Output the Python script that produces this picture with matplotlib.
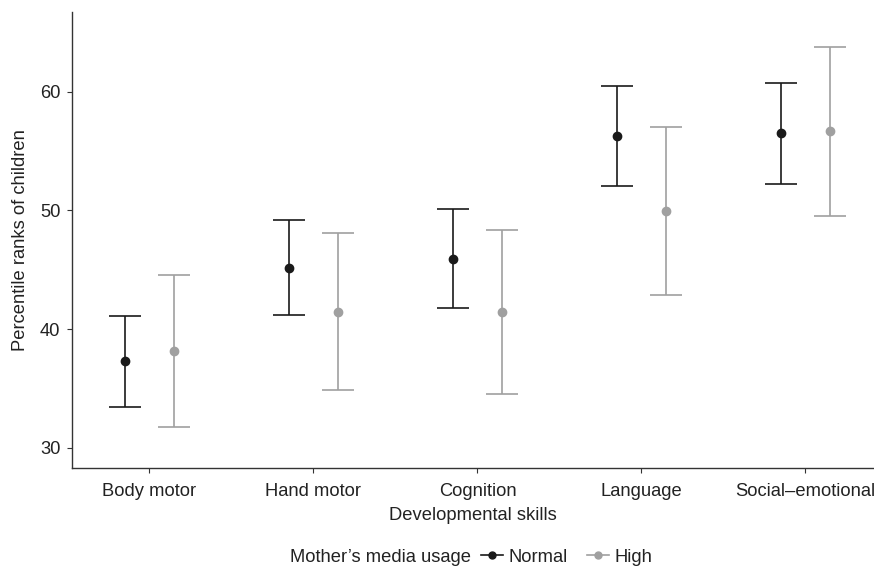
import numpy as np
import matplotlib
matplotlib.use('Agg')
import matplotlib.pyplot as plt
from matplotlib.lines import Line2D

plt.rcParams['font.family'] = ['Liberation Sans', 'DejaVu Sans']

# данные
skills = ['Body motor', 'Hand motor', 'Cognition', 'Language', 'Social–emotional']
normal_mean = [37.31, 45.17, 45.93, 56.24, 56.49]
normal_low = [33.46, 41.19, 41.80, 52.03, 52.25]
normal_high = [41.13, 49.16, 50.12, 60.48, 60.76]
high_mean = [38.18, 41.47, 41.41, 49.95, 56.66]
high_low = [31.78, 34.84, 34.50, 42.90, 49.55]
high_high = [44.58, 48.12, 48.35, 57.03, 63.77]
y_ticks = [30, 40, 50, 60]

black = '#1a1a1a'
gray = '#a0a0a0'
fs = 13.25

fig = plt.figure(figsize=(8.74, 5.66), dpi=100)
ax = fig.add_axes([0.082, 0.1726, 1.0 - 0.082, 0.8062])

x = np.arange(1, len(skills) + 1)
dodge = 0.15

for xs, m, lo, hi, col in [(x - dodge, normal_mean, normal_low, normal_high, black),
                           (x + dodge, high_mean, high_low, high_high, gray)]:
    m = np.array(m)
    yerr = [m - np.array(lo), np.array(hi) - m]
    ax.errorbar(xs, m, yerr=yerr, fmt='o', color=col, ms=6, elinewidth=1.2,
                capsize=11.8, capthick=1.2, ecolor=col)

ax.set_xlim(1 - (149.5 - 71.7) / 164, 1 + (874 - 149.5) / 164)
ax.set_ylim(28.27, 66.7)
ax.set_xticks(x)
ax.set_xticklabels(skills)
ax.set_yticks(y_ticks)

for s in ['top', 'right']:
    ax.spines[s].set_visible(False)
for s in ['left', 'bottom']:
    ax.spines[s].set_color('#333333')
    ax.spines[s].set_linewidth(1.0)
ax.tick_params(colors='#333333', labelcolor='#222222', labelsize=fs, length=3.6, width=0.8)
ax.tick_params(axis='x', pad=7)
ax.tick_params(axis='y', pad=4.5)

ax.set_xlabel('Developmental skills', fontsize=fs, color='#222222', labelpad=5)
ax.set_ylabel('Percentile ranks of children', fontsize=fs, color='#222222', labelpad=8)

# легенда снизу
fig.text(290 / 874, 4.2 / 566, 'Mother’s media usage', fontsize=fs, color='#222222',
         ha='left', va='baseline')
handles = [Line2D([], [], color=black, marker='o', ms=5, lw=1.2),
           Line2D([], [], color=gray, marker='o', ms=5, lw=1.2)]
fig.legend(handles, ['Normal', 'High'], ncol=2, frameon=False, fontsize=fs,
           loc='lower left', bbox_to_anchor=(481 / 874, 0.0004), borderaxespad=0,
           borderpad=0, handlelength=1.2, handletextpad=0.27, columnspacing=1.09,
           labelcolor='#222222')

plt.savefig('out.png', dpi=100)
plt.close()
